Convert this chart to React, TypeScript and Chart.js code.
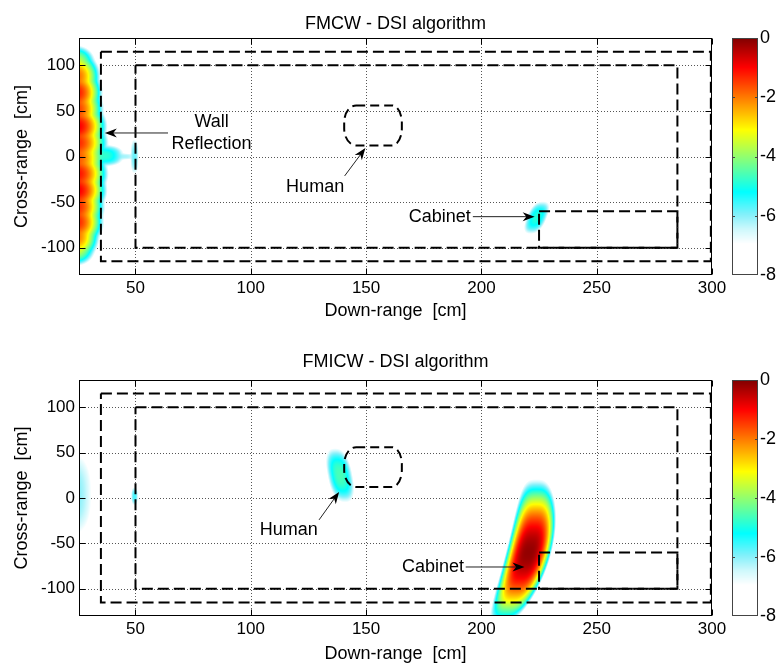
import React, { useEffect, useRef } from 'react';
import { Chart, registerables } from 'chart.js';

Chart.register(...registerables);

// ---------- axes ----------
const X_TICKS = [50, 100, 150, 200, 250, 300];
const Y_TICKS = [-100, -50, 0, 50, 100];
const CB_TICKS = [0, -2, -4, -6, -8];
const X_MIN = 25.5;
const X_MAX = 300;
const Y_MIN = -130;
const Y_MAX = 130;
const CB_MIN = -8;
const CB_MAX = 0;

// ---------- scene outlines (cm) ----------
const OUTER_X = [35, 299.5, 299.5, 35, 35];
const OUTER_Y = [115, 115, -115, -115, 115];
const INNER_X = [50, 285, 285, 50, 50];
const INNER_Y = [100, 100, -100, -100, 100];
const CAB_X = [225, 285, 285, 225, 225];
const CAB_Y = [-60, -60, -100, -100, -60];
const HUMAN_X = [140.5, 165.5];
const HUMAN_Y = [12, 56];

// ---------- image reflections (dB) ----------
// each row: [centre x, centre y, peak, reach x, reach y, lean, bend, power x, power y]
const FMCW_WALL = [
  [24.5, 104, -3.6, 8, 18, 0, 0, 2, 2],
  [24.5, 88, -1.9, 10.5, 28, 0, 0, 2, 2],
  [24.5, 70, -1.2, 11.5, 30, 0, 0, 2, 2],
  [24.5, 52, -1.5, 12, 30, 0, 0, 2, 2],
  [24.5, 33, -0.9, 13.5, 30, 0, 0, 2, 2],
  [24.5, 15, -1.3, 14, 30, 0, 0, 2, 2],
  [24.5, -2, -1.7, 13.5, 30, 0, 0, 2, 2],
  [24.5, -19, -1.1, 14, 30, 0, 0, 2, 2],
  [24.5, -37, -0.9, 13.5, 30, 0, 0, 2, 2],
  [24.5, -55, -1.3, 12.5, 30, 0, 0, 2, 2],
  [24.5, -72, -1.3, 12, 30, 0, 0, 2, 2],
  [24.5, -88, -2.0, 10, 28, 0, 0, 2, 2],
  [24.5, -102, -3.6, 8, 18, 0, 0, 2, 2],
];
const FMCW_TARGETS = [
  [36, 1, -4.8, 9, 12],
  [45, 0, -6.2, 5, 3.5],
  [49.6, 0, -5.8, 1.8, 19],
  [224, -67, -4.9, 4.5, 18, 0.15, 0, 2.5, 2.5],
];
const FMICW_TARGETS = [
  [22, 4, -5.9, 9, 45],
  [49.6, 2, -5.6, 1.5, 10],
  [138.7, 25, -4.6, 5.5, 30, -0.074, 0, 2.5, 2.5],
  [220.5, -60, -0.15, 10, 81, 0.1, -0.00072, 3, 2],
];

// ---------- colour map (value -> rgb) ----------
const CMAP_V = [-8, -6.95, -6.45, -5.95, -5.2, -4.15, -3.1, -2.05, -1.0, 0];
const CMAP_RGB = [
  [255, 255, 255], [255, 255, 255], [205, 248, 252], [130, 240, 250], [0, 255, 255],
  [128, 255, 128], [255, 255, 0], [255, 128, 0], [255, 0, 0], [128, 0, 0],
];

// ---------- annotations (cm) ----------
const TOP_LABELS = [
  { text: 'Wall', x: 83, y: 37.7 },
  { text: 'Reflection', x: 83, y: 14 },
  { text: 'Human', x: 127.9, y: -33 },
  { text: 'Cabinet', x: 181.9, y: -66 },
];
const TOP_ARROWS = [
  [64.1, 25.8, 36.7, 25.8],
  [140.7, -21.3, 149.7, 9.3],
  [196.3, -66, 223.1, -66],
];
const BOT_LABELS = [
  { text: 'Human', x: 116.5, y: -35.6 },
  { text: 'Cabinet', x: 179, y: -76 },
];
const BOT_ARROWS = [
  [129.6, -24.1, 138.3, 6.7],
  [193.2, -76, 218.7, -76],
];

const FONT = '"Liberation Sans", Arial, Helvetica, sans-serif';
const SOFT = 0.3;

function colorFor(v: number): number[] | null {
  if (v < -6.95) return null;
  if (v >= CMAP_V[CMAP_V.length - 1]) return CMAP_RGB[CMAP_RGB.length - 1];
  for (let i = 0; i < CMAP_V.length - 1; i++) {
    if (v >= CMAP_V[i] && v <= CMAP_V[i + 1]) {
      const f = (v - CMAP_V[i]) / (CMAP_V[i + 1] - CMAP_V[i]);
      const a = CMAP_RGB[i], b = CMAP_RGB[i + 1];
      return [a[0] + (b[0] - a[0]) * f, a[1] + (b[1] - a[1]) * f, a[2] + (b[2] - a[2]) * f];
    }
  }
  return CMAP_RGB[0];
}

function fieldAt(blobs: number[][], x: number, y: number): number {
  const vals: number[] = [];
  let best = -99;
  for (const b of blobs) {
    const [cx, cy, p, rx, ry, k1 = 0, k2 = 0, nx = 2.5, ny = 2.5] = b;
    const dy = y - cy;
    const dx = x - (cx + k1 * dy + k2 * dy * dy);
    const t = Math.pow(Math.abs(dx / rx), nx) + Math.pow(Math.abs(dy / ry), ny);
    const v = p - (p + 7) * t;
    vals.push(v);
    if (v > best) best = v;
  }
  let s = 0;
  for (const v of vals) s += Math.exp((v - best) / SOFT);
  return Math.min(0, best + SOFT * Math.log(s));
}

function rectData(xs: number[], ys: number[]) {
  return xs.map((x, i) => ({ x, y: ys[i] }));
}

function drawArrow(ctx: CanvasRenderingContext2D, x1: number, y1: number, x2: number, y2: number) {
  const ang = Math.atan2(y2 - y1, x2 - x1);
  const L = 12, W = 4.5;
  const c = Math.cos(ang), s = Math.sin(ang);
  const bx = x2 - L * c, by = y2 - L * s;
  ctx.beginPath();
  ctx.moveTo(x1, y1);
  ctx.lineTo(x2 - 6 * c, y2 - 6 * s);
  ctx.stroke();
  ctx.beginPath();
  ctx.moveTo(x2, y2);
  ctx.lineTo(bx - W * s, by + W * c);
  ctx.lineTo(x2 - 0.7 * L * c, y2 - 0.7 * L * s);
  ctx.lineTo(bx + W * s, by - W * c);
  ctx.closePath();
  ctx.fill();
}

interface PanelCfg {
  height: number;
  areaTop: number;
  areaBottom: number;
  title: string;
  titleBaseline: number;
  xLabelBaseline: number;
  blobs: number[][];
  labels: { text: string; x: number; y: number }[];
  arrows: number[][];
}

const TOP_CFG: PanelCfg = {
  height: 320, areaTop: 38, areaBottom: 275,
  title: 'FMCW - DSI algorithm', titleBaseline: 28.5, xLabelBaseline: 316,
  blobs: [...FMCW_WALL, ...FMCW_TARGETS], labels: TOP_LABELS, arrows: TOP_ARROWS,
};
const BOT_CFG: PanelCfg = {
  height: 345, areaTop: 60, areaBottom: 296,
  title: 'FMICW - DSI algorithm', titleBaseline: 47, xLabelBaseline: 339,
  blobs: FMICW_TARGETS, labels: BOT_LABELS, arrows: BOT_ARROWS,
};

const AREA_LEFT = 79;
const AREA_RIGHT = 712;
const CB_LEFT = 732;
const CB_RIGHT = 758;

function makeChart(canvas: HTMLCanvasElement, cfg: PanelCfg) {
  const dashed = {
    showLine: true, borderColor: '#000', borderWidth: 2, borderDash: [11, 5],
    pointRadius: 0, fill: false, tension: 0,
  };
  const plugin = {
    id: 'panelDecor',
    beforeDatasetsDraw(chart: any) {
      const { ctx, chartArea: a, scales } = chart;
      const xs = scales.x, ys = scales.y;
      // dotted grid
      ctx.save();
      ctx.strokeStyle = '#555';
      ctx.lineWidth = 1;
      ctx.setLineDash([1, 2]);
      for (const t of X_TICKS) {
        const px = Math.round(xs.getPixelForValue(t)) + 0.5;
        if (px >= a.right - 1) continue;
        ctx.beginPath(); ctx.moveTo(px, a.top); ctx.lineTo(px, a.bottom); ctx.stroke();
      }
      for (const t of Y_TICKS) {
        const py = Math.round(ys.getPixelForValue(t)) + 0.5;
        ctx.beginPath(); ctx.moveTo(a.left, py); ctx.lineTo(a.right, py); ctx.stroke();
      }
      ctx.restore();
      // heat map image
      const w = Math.round(a.right - a.left), h = Math.round(a.bottom - a.top);
      const off = document.createElement('canvas');
      off.width = w; off.height = h;
      const octx = off.getContext('2d')!;
      const img = octx.createImageData(w, h);
      for (let j = 0; j < h; j++) {
        const yv = ys.getValueForPixel(a.top + j + 0.5);
        for (let i = 0; i < w; i++) {
          const xv = xs.getValueForPixel(a.left + i + 0.5);
          const col = colorFor(fieldAt(cfg.blobs, xv, yv));
          if (!col) continue;
          const k = (j * w + i) * 4;
          img.data[k] = col[0]; img.data[k + 1] = col[1]; img.data[k + 2] = col[2]; img.data[k + 3] = 255;
        }
      }
      octx.putImageData(img, 0, 0);
      ctx.drawImage(off, Math.round(a.left), Math.round(a.top));
    },
    afterDraw(chart: any) {
      const { ctx, chartArea: a, scales } = chart;
      const xs = scales.x, ys = scales.y;
      ctx.save();
      // human outline
      const x0 = xs.getPixelForValue(HUMAN_X[0]), x1 = xs.getPixelForValue(HUMAN_X[1]);
      const yT = ys.getPixelForValue(HUMAN_Y[1]), yB = ys.getPixelForValue(HUMAN_Y[0]);
      const rxL = 12, rxR = 10, ry = 17;
      ctx.strokeStyle = '#000'; ctx.lineWidth = 2; ctx.setLineDash([9, 5]);
      ctx.beginPath();
      ctx.moveTo(x0 + rxL, yT);
      ctx.lineTo(x1 - rxR, yT);
      ctx.ellipse(x1 - rxR, yT + ry, rxR, ry, 0, -Math.PI / 2, 0);
      ctx.lineTo(x1, yB - ry);
      ctx.ellipse(x1 - rxR, yB - ry, rxR, ry, 0, 0, Math.PI / 2);
      ctx.lineTo(x0 + rxL, yB);
      ctx.ellipse(x0 + rxL, yB - ry, rxL, ry, 0, Math.PI / 2, Math.PI);
      ctx.lineTo(x0, yT + ry);
      ctx.ellipse(x0 + rxL, yT + ry, rxL, ry, 0, Math.PI, Math.PI * 1.5);
      ctx.stroke();
      ctx.setLineDash([]);
      // arrows
      ctx.strokeStyle = '#222'; ctx.fillStyle = '#000'; ctx.lineWidth = 1;
      for (const ar of cfg.arrows) {
        drawArrow(ctx, xs.getPixelForValue(ar[0]), ys.getPixelForValue(ar[1]),
          xs.getPixelForValue(ar[2]), ys.getPixelForValue(ar[3]));
      }
      // labels
      ctx.font = `18px ${FONT}`;
      ctx.fillStyle = '#000';
      ctx.textAlign = 'center';
      ctx.textBaseline = 'middle';
      for (const l of cfg.labels) {
        ctx.fillText(l.text, xs.getPixelForValue(l.x), ys.getPixelForValue(l.y));
      }
      // frame + inner ticks
      const L = Math.round(a.left) + 0.5, R = Math.round(a.right) - 0.5;
      const T = Math.round(a.top) + 0.5, B = Math.round(a.bottom) - 0.5;
      ctx.strokeStyle = '#000'; ctx.lineWidth = 1;
      ctx.strokeRect(L, T, R - L, B - T);
      ctx.beginPath();
      for (const t of X_TICKS) {
        const px = Math.round(xs.getPixelForValue(t)) + 0.5;
        ctx.moveTo(px, B); ctx.lineTo(px, B - 6);
        ctx.moveTo(px, T); ctx.lineTo(px, T + 6);
      }
      for (const t of Y_TICKS) {
        const py = Math.round(ys.getPixelForValue(t)) + 0.5;
        ctx.moveTo(L, py); ctx.lineTo(L + 6, py);
        ctx.moveTo(R, py); ctx.lineTo(R - 6, py);
      }
      ctx.stroke();
      // title and axis labels
      ctx.fillStyle = '#000';
      ctx.textAlign = 'center';
      ctx.textBaseline = 'alphabetic';
      ctx.font = `18px ${FONT}`;
      const cx = (a.left + a.right) / 2;
      ctx.fillText(cfg.title, cx, cfg.titleBaseline);
      ctx.fillText('Down-range  [cm]', cx, cfg.xLabelBaseline);
      ctx.save();
      ctx.translate(22, (a.top + a.bottom) / 2);
      ctx.rotate(-Math.PI / 2);
      ctx.textBaseline = 'middle';
      ctx.fillText('Cross-range  [cm]', 0, 0);
      ctx.restore();
      // colour bar
      const cbT = Math.round(a.top), cbB = Math.round(a.bottom);
      const hh = cbB - cbT;
      for (let r = 0; r < hh; r++) {
        const v = CB_MAX - (CB_MAX - CB_MIN) * (r + 0.5) / hh;
        const col = colorFor(v) || [255, 255, 255];
        ctx.fillStyle = `rgb(${Math.round(col[0])},${Math.round(col[1])},${Math.round(col[2])})`;
        ctx.fillRect(CB_LEFT, cbT + r, CB_RIGHT - CB_LEFT, 1);
      }
      ctx.strokeStyle = '#444';
      ctx.strokeRect(CB_LEFT + 0.5, cbT + 0.5, CB_RIGHT - CB_LEFT - 1, hh - 1);
      ctx.beginPath();
      ctx.fillStyle = '#000';
      ctx.textAlign = 'left';
      ctx.textBaseline = 'middle';
      for (const t of CB_TICKS) {
        const py = cbB - (t - CB_MIN) / (CB_MAX - CB_MIN) * hh;
        if (t !== CB_MIN && t !== CB_MAX) {
          const yy = Math.round(py) + 0.5;
          ctx.moveTo(CB_LEFT, yy); ctx.lineTo(CB_LEFT + 3, yy);
          ctx.moveTo(CB_RIGHT, yy); ctx.lineTo(CB_RIGHT - 3, yy);
        }
        ctx.fillText(String(t), CB_RIGHT + 2, py);
      }
      ctx.stroke();
      ctx.restore();
    },
  };

  return new Chart(canvas, {
    type: 'scatter',
    data: {
      datasets: [
        { ...dashed, data: rectData(OUTER_X, OUTER_Y) },
        { ...dashed, data: rectData(INNER_X, INNER_Y) },
        { ...dashed, data: rectData(CAB_X, CAB_Y) },
      ] as any,
    },
    options: {
      animation: false,
      responsive: false,
      devicePixelRatio: 1,
      events: [],
      layout: { padding: { left: 0, right: 780 - AREA_RIGHT, top: cfg.areaTop, bottom: 0 } },
      plugins: { legend: { display: false }, title: { display: false }, tooltip: { enabled: false } },
      scales: {
        x: {
          type: 'linear', position: 'bottom', min: X_MIN, max: X_MAX,
          grid: { display: false, drawTicks: false },
          border: { display: false },
          ticks: { color: '#000', font: { family: FONT, size: 17 }, padding: 3, maxRotation: 0, autoSkip: false },
          afterBuildTicks: (s: any) => { s.ticks = X_TICKS.map((v) => ({ value: v })); },
          afterFit: (s: any) => { s.height = cfg.height - cfg.areaBottom; },
        },
        y: {
          type: 'linear', position: 'left', min: Y_MIN, max: Y_MAX,
          grid: { display: false, drawTicks: false },
          border: { display: false },
          ticks: { color: '#000', font: { family: FONT, size: 17 }, padding: 4, autoSkip: false },
          afterBuildTicks: (s: any) => { s.ticks = Y_TICKS.map((v) => ({ value: v })); },
          afterFit: (s: any) => { s.width = AREA_LEFT; },
        },
      },
    } as any,
    plugins: [plugin as any],
  });
}

export default function App() {
  const topRef = useRef<HTMLCanvasElement>(null);
  const botRef = useRef<HTMLCanvasElement>(null);
  useEffect(() => {
    const c1 = makeChart(topRef.current!, TOP_CFG);
    const c2 = makeChart(botRef.current!, BOT_CFG);
    return () => { c1.destroy(); c2.destroy(); };
  }, []);
  return (
    <div style={{ position: 'absolute', left: 0, top: 0, width: 780, height: 665, background: '#fff' }}>
      <canvas ref={topRef} width={780} height={320}
        style={{ position: 'absolute', left: 0, top: 0, width: 780, height: 320 }} />
      <canvas ref={botRef} width={780} height={345}
        style={{ position: 'absolute', left: 0, top: 320, width: 780, height: 345 }} />
    </div>
  );
}
